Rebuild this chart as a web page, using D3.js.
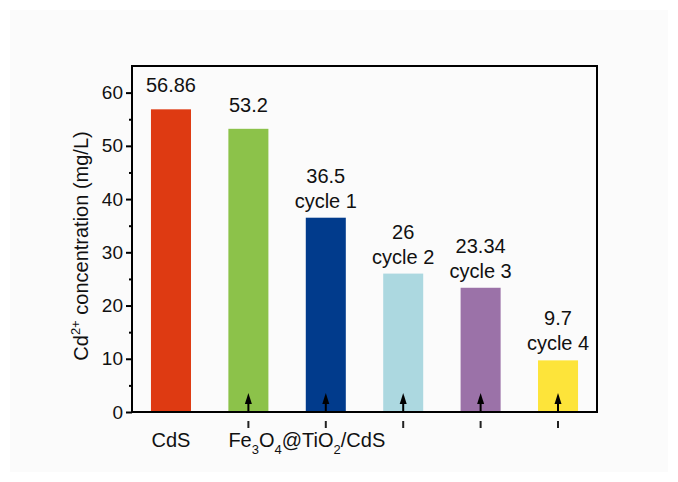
<!DOCTYPE html>
<html lang="en">
  <head>
    <meta charset="utf-8">
    <title>Cd2+ concentration</title>
    <script type="text/javascript" src="https://d3js.org/d3.v7.min.js"></script>
    <style type="text/css">
        body { margin: 0; background: #fff; }
        text {
            font-family: "Liberation Sans", Arial, sans-serif;
            fill: #111;
        }
        .axis path, .axis line { stroke: #000; }
    </style>
  </head>
  <body>
    <div id="chart"></div>
    <script type="text/javascript">

      // data
      var categories = ["CdS", "Fe3O4@TiO2/CdS", "cycle 1", "cycle 2", "cycle 3", "cycle 4"];
      var values = [56.86, 53.2, 36.5, 26, 23.34, 9.7];
      var valueLabels = ["56.86", "53.2", "36.5", "26", "23.34", "9.7"];
      var cycleLabels = ["", "", "cycle 1", "cycle 2", "cycle 3", "cycle 4"];
      var barColors = ["#de3a12", "#8cc24a", "#013b8c", "#acd8e0", "#9b72a8", "#fde43a"];
      var yTicks = [0, 10, 20, 30, 40, 50, 60];

      var width = 678, height = 482;
      var margin = {top: 66, right: 81, bottom: 70, left: 132};
      var w = width - margin.left - margin.right;
      var h = height - margin.top - margin.bottom;

      var svg = d3.select("#chart").append("svg")
          .attr("width", width)
          .attr("height", height);

      // faint grey panel behind everything
      svg.append("rect")
          .attr("x", 10).attr("y", 10)
          .attr("width", 658).attr("height", 462)
          .attr("fill", "#fbfbfb");

      var g = svg.append("g")
          .attr("transform", "translate(" + margin.left + "," + margin.top + ")");

      var x = d3.scaleBand()
          .domain(categories)
          .range([0, w])
          .paddingInner(0.483)
          .paddingOuter(0.245);

      var y = d3.scaleLinear()
          .domain([0, 65])
          .range([h, 0]);

      // bars
      g.selectAll(".bar")
          .data(categories)
          .enter()
          .append("rect")
          .attr("class", "bar")
          .attr("x", function(d) { return x(d); })
          .attr("y", function(d, i) { return y(values[i]); })
          .attr("width", x.bandwidth())
          .attr("height", function(d, i) { return h - y(values[i]); })
          .attr("fill", function(d, i) { return barColors[i]; });

      // value labels, two lines where there is a cycle label
      g.selectAll(".val")
          .data(categories)
          .enter()
          .append("text")
          .attr("class", "val")
          .attr("x", function(d) { return x(d) + x.bandwidth() / 2; })
          .attr("y", function(d, i) { return y(values[i]) - (cycleLabels[i] ? 35 : 17); })
          .attr("text-anchor", "middle")
          .style("font-size", "20px")
          .text(function(d, i) { return valueLabels[i]; });

      g.selectAll(".cyc")
          .data(categories.filter(function(d, i) { return cycleLabels[i]; }))
          .enter()
          .append("text")
          .attr("class", "cyc")
          .attr("x", function(d) { return x(d) + x.bandwidth() / 2; })
          .attr("y", function(d) { return y(values[categories.indexOf(d)]) - 10; })
          .attr("text-anchor", "middle")
          .style("font-size", "20px")
          .text(function(d) { return cycleLabels[categories.indexOf(d)]; });

      // arrows and little marks under the axis, bars 2..6
      var marked = categories.slice(1);
      var arrows = g.selectAll(".arrow")
          .data(marked)
          .enter()
          .append("g")
          .attr("class", "arrow")
          .attr("transform", function(d) { return "translate(" + (x(d) + x.bandwidth() / 2) + ",0)"; });

      arrows.append("line")
          .attr("x1", 0).attr("x2", 0)
          .attr("y1", h).attr("y2", h - 10)
          .attr("stroke", "#000").attr("stroke-width", 2);
      arrows.append("path")
          .attr("d", "M0," + (h - 19) + "L3.5," + (h - 8) + "L-3.5," + (h - 8) + "Z")
          .attr("fill", "#000");
      arrows.append("line")
          .attr("x1", 0).attr("x2", 0)
          .attr("y1", h + 9).attr("y2", h + 16)
          .attr("stroke", "#222").attr("stroke-width", 2);

      // y axis with minor ticks
      var yAxis = g.append("g")
          .attr("class", "axis")
          .call(d3.axisLeft(y).tickValues(yTicks).tickSize(6).tickPadding(3));
      yAxis.select(".domain").remove();
      yAxis.selectAll("line").attr("stroke-width", 2);
      yAxis.selectAll("text").style("font-size", "19px").attr("fill", "#111");

      g.append("g")
          .attr("class", "axis minor")
          .call(d3.axisLeft(y).tickValues(d3.range(5, 65, 10)).tickSize(3).tickFormat(""))
          .call(function(s) { s.select(".domain").remove(); })
          .selectAll("line").attr("stroke-width", 2);

      // frame
      g.append("rect")
          .attr("width", w).attr("height", h)
          .attr("fill", "none")
          .attr("stroke", "#000")
          .attr("stroke-width", 2);

      // x labels
      g.append("text")
          .attr("x", x("CdS") + x.bandwidth() / 2)
          .attr("y", h + 35)
          .attr("text-anchor", "middle")
          .style("font-size", "20px")
          .text("CdS");

      var feLabel = g.append("text")
          .attr("x", x("Fe3O4@TiO2/CdS"))
          .attr("y", h + 35)
          .style("font-size", "20px");
      feLabel.append("tspan").text("Fe");
      feLabel.append("tspan").attr("dy", 7).style("font-size", "13px").text("3");
      feLabel.append("tspan").attr("dy", -7).text("O");
      feLabel.append("tspan").attr("dy", 7).style("font-size", "13px").text("4");
      feLabel.append("tspan").attr("dy", -7).text("@TiO");
      feLabel.append("tspan").attr("dy", 7).style("font-size", "13px").text("2");
      feLabel.append("tspan").attr("dy", -7).text("/CdS");

      // y title
      var yTitle = svg.append("text")
          .attr("transform", "translate(88," + (margin.top + h / 2 + 7) + ") rotate(-90)")
          .attr("text-anchor", "middle")
          .style("font-size", "20px");
      yTitle.append("tspan").text("Cd");
      yTitle.append("tspan").attr("dy", -8).style("font-size", "13px").text("2+");
      yTitle.append("tspan").attr("dy", 8).text(" concentration (mg/L)");

    </script>
  </body>
</html>
